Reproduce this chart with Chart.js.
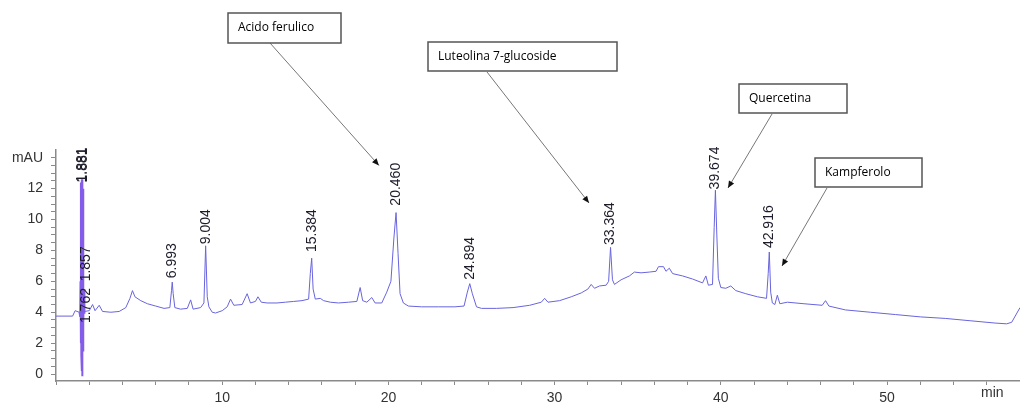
<!DOCTYPE html>
<html><head><meta charset="utf-8">
<script src="https://cdn.jsdelivr.net/npm/chart.js@4/dist/chart.umd.min.js"></script>
<style>html,body{margin:0;padding:0;background:#fff;overflow:hidden}#wrap{width:1020px;height:403px}</style>
</head><body><div id="wrap"><canvas id="c" width="1020" height="403"></canvas></div>
<script>
// ---- data ----
const traceTimes = [0.0,1.0,1.15,1.4,2.0,2.2,2.35,2.6,2.8,3.3,3.8,4.2,4.45,4.6,4.75,5.1,5.5,6.0,6.5,6.85,6.95,6.993,7.05,7.15,7.5,7.9,8.1,8.25,8.7,8.9,9.004,9.1,9.2,9.4,9.6,10.0,10.3,10.5,10.7,11.2,11.5,11.7,12.0,12.15,12.35,12.7,13.3,13.8,14.3,14.8,15.2,15.3,15.384,15.47,15.6,15.9,16.1,16.5,17.0,17.6,18.1,18.3,18.45,18.7,19.0,19.2,19.6,19.9,20.15,20.33,20.46,20.58,20.7,20.9,21.2,22.0,23.0,24.0,24.55,24.75,24.894,25.05,25.3,25.6,26.5,27.5,28.5,29.2,29.4,29.6,30.3,31.0,31.6,32.0,32.2,32.4,32.7,33.1,33.25,33.364,33.48,33.6,34.0,34.5,34.8,35.2,35.7,36.1,36.25,36.55,36.7,36.9,37.1,37.7,38.3,38.9,39.1,39.25,39.5,39.6,39.674,39.76,39.85,40.0,40.3,40.6,40.9,41.5,42.2,42.75,42.85,42.916,43.0,43.1,43.25,43.4,43.55,44.0,45.0,46.1,46.3,46.5,47.5,49.0,50.5,52.0,53.5,55.0,56.5,57.2,57.5,58.0];
const traceMAU   = [3.75,3.75,4.1,4.0,4.1,4.5,4.1,4.45,4.05,4.0,4.05,4.3,4.9,5.4,5.0,4.75,4.55,4.4,4.25,4.3,5.4,5.95,5.2,4.3,4.2,4.25,4.8,4.2,4.3,4.6,8.3,5.0,4.35,4.0,3.95,4.1,4.35,4.85,4.45,4.5,5.2,4.6,4.7,5.0,4.65,4.6,4.6,4.65,4.7,4.75,4.85,6.5,7.5,5.5,4.85,4.9,4.75,4.65,4.6,4.65,4.7,5.6,4.75,4.65,4.95,4.6,4.6,5.3,6.0,8.8,10.45,7.8,5.2,4.6,4.4,4.35,4.35,4.35,4.4,5.3,5.85,5.2,4.35,4.25,4.25,4.3,4.45,4.65,4.9,4.65,4.75,5.0,5.25,5.5,5.8,5.55,5.7,5.75,6.0,8.2,6.1,5.8,6.1,6.35,6.6,6.55,6.6,6.65,6.95,6.95,6.65,6.85,6.5,6.35,6.15,5.9,6.35,5.75,5.8,9.5,11.9,9.0,6.2,5.6,5.55,5.7,5.4,5.2,5.0,4.9,6.5,7.9,5.3,4.6,4.5,5.1,4.55,4.65,4.55,4.45,4.75,4.4,4.15,4.0,3.85,3.7,3.6,3.45,3.3,3.25,3.35,4.3];
const spikeTimes = [1.40,1.44,1.46,1.47,1.48,1.49,1.50,1.51,1.52,1.53,1.54,1.55,1.56,1.57,1.58,1.59,1.60,1.61,1.62,1.63,1.64,1.65,1.66,1.67,1.69,1.71,1.74];
const spikeMAU   = [4.0,3.7,6.0,3.0,11.5,2.0,12.4,1.2,12.6,0.6,12.6,0.2,12.6,-0.1,12.6,0.3,12.5,0.8,12.4,1.5,12.0,2.5,9.5,3.2,5.5,3.9,4.2];

const peakLabels     = ['1.881','1.762','1.857','6.993','9.004','15.384','20.460','24.894','33.364','39.674','42.916'];
const peakLabelTimes = [1.56, 1.80, 1.80, 6.993, 9.004, 15.384, 20.46, 24.894, 33.364, 39.674, 42.916];
const peakLabelBase  = [12.4, 3.3, 6.0, 6.2, 8.4, 7.9, 10.9, 6.1, 8.35, 11.95, 8.15];

const compoundNames = ['Acido ferulico','Luteolina 7-glucoside','Quercetina','Kampferolo'];
const compoundTipTimes = [19.43, 32.07, 40.43, 43.68];
const compoundTipMAU   = [13.5, 11.07, 12.04, 6.99];

const xTickValues = [0,2,4,6,8,10,12,14,16,18,20,22,24,26,28,30,32,34,36,38,40,42,44,46,48,50,52,54,56];
const xTickLabels = [10,20,30,40,50];
const yTickValues = [0,0.5,1,1.5,2,2.5,3,3.5,4,4.5,5,5.5,6,6.5,7,7.5,8,8.5,9,9.5,10,10.5,11,11.5,12,12.5,13,13.5,14];
const yTickLabels = [0,2,4,6,8,10,12];
const yUnitLabel = 'mAU';
const xUnitLabel = 'min';

// ---- layout / style ----
const boxes = [ // pixel layout of annotation boxes: x, y, w, h, arrow start x, y
  [228,13,113,30,270,43],
  [428,42,189,29,487,72],
  [739,84,108,29,772,114],
  [815,158,107,29,827,188]
];

Chart.defaults.font.family = '"Liberation Sans", Arial, sans-serif';

const annot = {
  id:'annot',
  afterDatasetsDraw(chart){
    const ctx = chart.ctx, xs = chart.scales.x, ys = chart.scales.y;
    ctx.save();
    // peak labels
    ctx.fillStyle = '#1c1c2a';
    ctx.font = '14px "Liberation Sans", Arial, sans-serif';
    ctx.textAlign = 'left'; ctx.textBaseline = 'middle';
    peakLabels.forEach((lab,i)=>{
      const px = xs.getPixelForValue(peakLabelTimes[i]);
      const py = ys.getPixelForValue(peakLabelBase[i]);
      ctx.save(); ctx.translate(px, py); ctx.rotate(-Math.PI/2);
      ctx.fillText(lab, 0, 0);
      if (i===0) ctx.fillText(lab, 0, 0.8);
      ctx.restore();
    });
    // unit label on x axis
    ctx.fillStyle = '#333';
    ctx.textBaseline = 'alphabetic';
    ctx.fillText(xUnitLabel, 981, 397);
    // annotation boxes with arrows
    compoundNames.forEach((name,i)=>{
      const [bx,by,bw,bh,ax,ay] = boxes[i];
      const tx = xs.getPixelForValue(compoundTipTimes[i]);
      const ty = ys.getPixelForValue(compoundTipMAU[i]);
      ctx.strokeStyle = '#777'; ctx.lineWidth = 1;
      ctx.beginPath(); ctx.moveTo(ax,ay); ctx.lineTo(tx,ty); ctx.stroke();
      const ang = Math.atan2(ty-ay, tx-ax);
      ctx.fillStyle = '#111';
      ctx.beginPath();
      ctx.moveTo(tx,ty);
      ctx.lineTo(tx-7*Math.cos(ang)+3*Math.sin(ang), ty-7*Math.sin(ang)-3*Math.cos(ang));
      ctx.lineTo(tx-7*Math.cos(ang)-3*Math.sin(ang), ty-7*Math.sin(ang)+3*Math.cos(ang));
      ctx.closePath(); ctx.fill();
      ctx.fillStyle = '#fff';
      ctx.fillRect(bx,by,bw,bh);
      ctx.strokeStyle = '#555'; ctx.lineWidth = 1.5;
      ctx.strokeRect(bx,by,bw,bh);
      ctx.fillStyle = '#000';
      ctx.font = '12px "Open Sans", sans-serif';
      ctx.textBaseline = 'middle';
      ctx.fillText(name, bx+10, by+bh/2);
    });
    ctx.restore();
  }
};

new Chart(document.getElementById('c'), {
  type:'line',
  data:{
    datasets:[
      {data: traceTimes.map((t,i)=>({x:t,y:traceMAU[i]})), borderColor:'rgb(104,100,222)', borderWidth:1, pointRadius:0, tension:0},
      {data: spikeTimes.map((t,i)=>({x:t,y:spikeMAU[i]})), borderColor:'rgb(132,92,234)', borderWidth:1.5, pointRadius:0, tension:0}
    ]
  },
  options:{
    responsive:false, animation:false, devicePixelRatio:1,
    layout:{padding:{top:150,left:0,right:0,bottom:0}},
    plugins:{legend:{display:false}, tooltip:{enabled:false}},
    scales:{
      x:{type:'linear', min:0, max:58,
        afterBuildTicks(s){ s.ticks = xTickValues.map(v=>({value:v})); },
        afterFit(s){ s.height = 22; },
        ticks:{autoSkip:false, maxRotation:0, padding:5, color:'#333', font:{size:14},
          callback:(v)=> xTickLabels.includes(v) ? String(v) : ''},
        grid:{drawOnChartArea:false, drawTicks:true, tickLength:4, color:'#8a8a8a'},
        border:{color:'#8a8a8a', width:1.5}
      },
      y:{type:'linear', min:-0.45, max:14.5,
        afterBuildTicks(s){ s.ticks = yTickValues.map(v=>({value:v})); },
        afterFit(s){ s.width = 56; },
        ticks:{autoSkip:false, padding:8, color:'#333', font:{size:14},
          callback:(v)=> v===14 ? yUnitLabel : (yTickLabels.includes(v) ? String(v) : '')},
        grid:{drawOnChartArea:false, drawTicks:true, tickLength:5, color:'#8a8a8a'},
        border:{color:'#8a8a8a', width:1.5}
      }
    }
  },
  plugins:[annot]
});
</script></body></html>
